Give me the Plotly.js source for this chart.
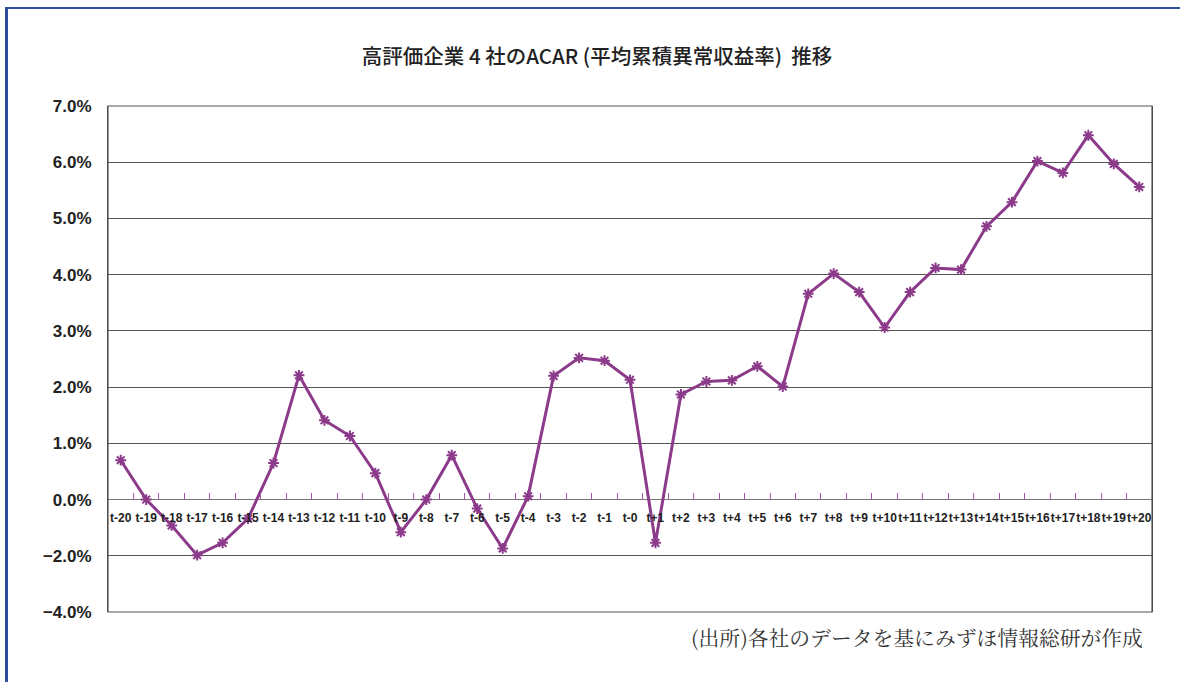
<!DOCTYPE html>
<html>
<head>
<meta charset="utf-8">
<script src="https://cdn.plot.ly/plotly-3.0.1.min.js"></script>
<style>
  html, body { margin: 0; padding: 0; background: #fff; }
  #wrap { position: relative; width: 1180px; height: 682px; }
  #frame { position: absolute; left: 5px; top: 7px; right: 0; bottom: -10px;
           border-left: 3px solid #2f4d9c; border-top: 2px solid #2f4d9c; pointer-events: none; z-index: 5; }
  #chart { position: absolute; left: 0; top: 0; width: 1180px; height: 682px; }
</style>
</head>
<body>
<div id="wrap">
  <div id="chart"></div>
  <div id="frame"></div>
</div>
<script>
// Categories (event window)
const periods = ["t-20","t-19","t-18","t-17","t-16","t-15","t-14","t-13","t-12","t-11","t-10",
  "t-9","t-8","t-7","t-6","t-5","t-4","t-3","t-2","t-1","t-0",
  "t+1","t+2","t+3","t+4","t+5","t+6","t+7","t+8","t+9","t+10",
  "t+11","t+12","t+13","t+14","t+15","t+16","t+17","t+18","t+19","t+20"];

// ACAR values as plotted on the axis (axis units, %)
const acar = [0.70, 0.00, -0.46, -0.99, -0.77, -0.34, 0.65, 2.21, 1.41, 1.13, 0.47,
  -0.58, 0.00, 0.79, -0.16, -0.87, 0.06, 2.20, 2.52, 2.47, 2.13,
  -0.77, 1.87, 2.10, 2.12, 2.37, 2.01, 3.66, 4.02, 3.69, 3.06,
  3.69, 4.12, 4.09, 4.86, 5.29, 6.02, 5.81, 6.48, 5.97, 5.56];

// Y tick positions and their printed labels (as in the original figure)
const yTickVals = [-2, -1, 0, 1, 2, 3, 4, 5, 6, 7];
const yTickText = ["\u22124.0%", "\u22122.0%", "0.0%", "1.0%", "2.0%", "3.0%", "4.0%", "5.0%", "6.0%", "7.0%"];

const titleText = "高評価企業 4 社のACAR (平均累積異常収益率)  推移";
const sourceText = "(出所)各社のデータを基にみずほ情報総研が作成";

const lineColor = "#8c3a8a";

const trace = {
  type: "scatter",
  mode: "lines+markers",
  x: periods,
  y: acar,
  line: { color: lineColor, width: 3 },
  marker: { symbol: "asterisk-open", size: 9, color: lineColor, line: { color: lineColor, width: 2 } },
  hoverinfo: "skip",
  cliponaxis: false
};

const zeroPos = (0 - (-2)) / (7 - (-2));

const layout = {
  width: 1180, height: 682,
  margin: { l: 108, r: 28, t: 106, b: 70 },
  paper_bgcolor: "#ffffff",
  plot_bgcolor: "#ffffff",
  showlegend: false,
  title: {
    text: titleText,
    font: { family: "Noto Sans CJK JP", size: 20.5, color: "#222", weight: 500 },
    x: (597 - 108) / 1044, xanchor: "center", xref: "paper",
    y: 1 - 57 / 682, yanchor: "middle", yref: "container"
  },
  xaxis: {
    type: "category",
    range: [-0.5, 40.5],
    anchor: "free",
    position: zeroPos,
    showline: false,
    showgrid: false,
    zeroline: false,
    ticks: "inside",
    tickson: "boundaries",
    ticklen: 7,
    tickwidth: 1,
    tickcolor: "#a05aa0",
    tickangle: 0,
    ticklabelstandoff: 9,
    tickfont: { family: "Liberation Sans, Arial, sans-serif", size: 12, color: "#222", weight: "bold" },
    fixedrange: true
  },
  yaxis: {
    range: [-2, 7],
    tickvals: yTickVals,
    ticktext: yTickText,
    tickfont: { family: "Liberation Sans, Arial, sans-serif", size: 17, color: "#222", weight: "bold" },
    ticks: "",
    ticklabelstandoff: 12,
    showgrid: true,
    gridcolor: "#555",
    gridwidth: 1,
    zeroline: true,
    zerolinecolor: "#777",
    zerolinewidth: 1.5,
    showline: true,
    linecolor: "#444",
    linewidth: 1,
    mirror: true,
    fixedrange: true
  },
  shapes: [
    { type: "rect", xref: "paper", yref: "paper", x0: 0, x1: 1, y0: 0, y1: 1,
      line: { color: "#555", width: 1.2 }, fillcolor: "rgba(0,0,0,0)", layer: "above" }
  ],
  annotations: [
    { text: sourceText, xref: "paper", yref: "paper", x: (1145 - 108) / 1044, xanchor: "right",
      y: -(637 - 612) / 506, yanchor: "middle", showarrow: false,
      font: { family: "Noto Serif CJK JP, Noto Sans CJK JP, serif", size: 20.8, color: "#333" } }
  ],
  hovermode: false
};

Plotly.newPlot("chart", [trace], layout, { displayModeBar: false, staticPlot: true });
</script>
</body>
</html>
